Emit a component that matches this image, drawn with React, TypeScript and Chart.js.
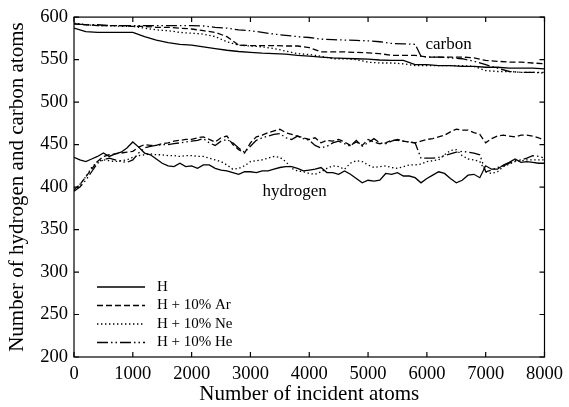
import { useEffect, useRef } from "react";
import { Chart, registerables } from "chart.js";

Chart.register(...registerables);

const FONT = "'Liberation Serif', 'Times New Roman', serif";

// x positions (number of incident atoms)
const hydrogenSteps = [
  0, 100, 200, 300, 400, 500, 600, 700, 800, 900,
  1000, 1100, 1200, 1300, 1400, 1500, 1600, 1700, 1800, 1900,
  2000, 2100, 2200, 2300, 2400, 2500, 2600, 2700, 2800, 2900,
  3000, 3100, 3200, 3300, 3400, 3500, 3600, 3700, 3800, 3900,
  4000, 4100, 4200, 4300, 4400, 4500, 4600, 4700, 4800, 4900,
  5000, 5100, 5200, 5300, 5400, 5500, 5600, 5700, 5800, 5900,
  6000, 6100, 6200, 6300, 6400, 6500, 6600, 6700, 6800, 6900,
  7000, 7100, 7200, 7300, 7400, 7500, 7600, 7700, 7800, 7900,
  8000,
];
const carbonSteps = [
  0, 200, 400, 600, 800, 1000, 1200, 1400, 1600, 1800,
  2000, 2200, 2400, 2600, 2800, 3000, 3200, 3400, 3600, 3800,
  4000, 4200, 4400, 4600, 4800, 5000, 5200, 5400, 5600, 5800,
  5900, 6000, 6200, 6400, 6600, 6800, 7000, 7200, 7400, 7600,
  7800, 8000,
];

// hydrogen counts
const hydrogenH = [
  435, 432, 430, 433, 436, 440, 436, 439, 441, 446,
  453, 447, 440, 438, 433, 428, 425, 424, 428, 424,
  425, 422, 426, 426, 422, 420, 419, 417, 415, 418,
  418, 417, 419, 419, 421, 423, 424, 424, 422, 419,
  420, 421, 423, 417, 417, 415, 419, 415, 410, 405,
  408, 407, 408, 416, 415, 417, 413, 413, 411, 405,
  410, 414, 418, 416, 410, 405, 408, 414, 415, 411,
  425, 421, 421, 426, 429, 433, 429, 430, 429, 428,
  428,
];
const hydrogenAr = [
  397, 403, 412, 421, 430, 436, 438, 439, 440, 441,
  442, 447, 450, 449, 449, 451, 452, 454, 455, 456,
  456, 458, 459, 456, 453, 458, 460, 450, 444, 440,
  452, 459, 461, 464, 466, 468, 464, 462, 460, 458,
  456, 458, 452, 455, 454, 456, 453, 449, 453, 449,
  456, 453, 451, 452, 455, 455, 454, 453, 452, 454,
  456, 457, 459, 461, 465, 468, 467, 467, 464, 462,
  452, 457, 460, 461, 460, 459, 461, 461, 460, 458,
  455,
];
const hydrogenNe = [
  396, 403, 412, 423, 430, 432, 431, 430, 431, 432,
  435, 437, 438, 439, 438, 438, 437, 437, 436, 437,
  437, 436, 436, 434, 432, 430, 426, 421, 422, 425,
  430, 431, 432, 434, 436, 435, 430, 422, 419, 418,
  416, 415, 418, 422, 425, 424, 421, 428, 431, 430,
  426, 423, 424, 425, 423, 422, 424, 426, 426, 427,
  430, 431, 432, 438, 443, 444, 437, 433, 432, 430,
  418, 416, 418, 424, 427, 430, 431, 432, 432, 432,
  432,
];
const hydrogenHe = [
  395, 400, 408, 418, 428, 432, 434, 432, 430, 429,
  432, 440, 446, 448, 449, 450, 450, 451, 452, 453,
  454, 455, 457, 452, 449, 454, 456, 452, 446, 441,
  448, 455, 458, 460, 462, 463, 458, 456, 460, 457,
  455, 449, 446, 448, 452, 454, 451, 448, 455, 448,
  452, 457, 452, 451, 454, 456, 454, 453, 452, 434,
  434, 434, 435, 437, 439, 441, 442, 441, 440, 438,
  418, 420, 423, 425, 428, 431, 432, 434, 437, 436,
  434,
];

// carbon counts
const carbonH = [
  587, 583, 582, 582, 582, 582, 577, 573, 570, 568,
  567, 565, 563, 561, 559.5, 558.5, 557.5, 557, 556.5, 555,
  554, 553, 552, 551.5, 551, 550.5, 549.5, 549, 549, 544,
  544, 544, 543, 543, 542, 542, 541, 541, 540, 540,
  540, 539,
];
const carbonAr = [
  592, 591, 590, 590, 590, 589, 589, 588, 588, 587,
  586, 584, 582, 577, 567, 566.5, 566.5, 566.5, 566, 566,
  564, 559, 559, 559, 558.5, 558, 557, 555, 555, 555,
  554, 553, 553, 553, 553, 552, 549, 548, 547, 547,
  546, 545,
];
const carbonNe = [
  593, 591, 590, 590, 589, 589, 587, 585, 584, 582,
  581, 580, 577, 571, 567, 566, 565, 563, 560, 557,
  556, 554, 551, 551, 550, 547, 546, 546, 545, 543,
  543, 543, 543, 543, 543, 542, 537, 536, 536, 535,
  535, 534,
];
const carbonHe = [
  592, 591, 591, 590, 590, 590, 590, 590, 590, 590,
  590, 589.5, 588, 587, 585, 584, 582, 580, 578.5, 577,
  576, 574, 573.5, 573, 572.5, 572, 571, 569, 568.5, 568,
  554, 553, 553, 552, 551, 548, 544, 540, 536, 535,
  535, 535,
];

const seriesLabels = ["H", "H + 10% Ar", "H + 10% Ne", "H + 10% He"];
const xTicks = [0, 1000, 2000, 3000, 4000, 5000, 6000, 7000, 8000];
const yTicks = [200, 250, 300, 350, 400, 450, 500, 550, 600];

// text annotations placed in data space
const noteTexts = ["carbon", "hydrogen"];
const noteX = [5975, 3207];
const noteY = [562.6, 389.5];

const dashes: number[][] = [[], [6, 3], [1.4, 2.6], [11, 3, 1.5, 3, 1.5, 3]];

function pts(xs: number[], ys: number[]) {
  return xs.map((x, i) => ({ x, y: ys[i] }));
}

const framePlugin = {
  id: "frame",
  afterDraw(chart: any) {
    const { ctx, chartArea, scales } = chart;
    const { left, right, top, bottom } = chartArea;
    ctx.save();
    ctx.strokeStyle = "#000";
    ctx.lineWidth = 1.2;
    ctx.setLineDash([]);
    ctx.strokeRect(left, top, right - left, bottom - top);
    const len = 5;
    ctx.beginPath();
    xTicks.forEach((v) => {
      const px = scales.x.getPixelForValue(v);
      ctx.moveTo(px, bottom);
      ctx.lineTo(px, bottom - len);
      ctx.moveTo(px, top);
      ctx.lineTo(px, top + len);
    });
    yTicks.forEach((v) => {
      const py = scales.y.getPixelForValue(v);
      ctx.moveTo(left, py);
      ctx.lineTo(left + len, py);
      ctx.moveTo(right, py);
      ctx.lineTo(right - len, py);
    });
    ctx.stroke();

    // annotations
    ctx.fillStyle = "#000";
    ctx.font = `17px ${FONT}`;
    ctx.textAlign = "left";
    ctx.textBaseline = "alphabetic";
    noteTexts.forEach((t, i) => {
      ctx.fillText(t, scales.x.getPixelForValue(noteX[i]), scales.y.getPixelForValue(noteY[i]));
    });

    // legend
    const lx0 = left + 23;
    const lx1 = left + 71;
    const tx = left + 83;
    ctx.font = `15px ${FONT}`;
    ctx.textBaseline = "middle";
    seriesLabels.forEach((lab, i) => {
      const ds = chart.data.datasets[i];
      const y = bottom - 70 + i * 18.5;
      ctx.beginPath();
      ctx.lineWidth = ds.borderWidth;
      ctx.setLineDash(ds.borderDash || []);
      ctx.moveTo(lx0, y);
      ctx.lineTo(lx1, y);
      ctx.stroke();
      ctx.setLineDash([]);
      ctx.fillText(lab, tx, y);
    });
    ctx.restore();
  },
};

export default function App() {
  const ref = useRef<HTMLCanvasElement>(null);

  useEffect(() => {
    if (!ref.current) return;
    const hyd = [hydrogenH, hydrogenAr, hydrogenNe, hydrogenHe];
    const carb = [carbonH, carbonAr, carbonNe, carbonHe];
    const datasets: any[] = [];
    hyd.forEach((ys, i) => {
      datasets.push({
        label: seriesLabels[i],
        data: pts(hydrogenSteps, ys),
        borderColor: "#000",
        borderWidth: 1.3,
        borderDash: dashes[i],
        pointRadius: 0,
        fill: false,
        tension: 0,
      });
    });
    carb.forEach((ys, i) => {
      datasets.push({
        label: seriesLabels[i] + " carbon",
        data: pts(carbonSteps, ys),
        borderColor: "#000",
        borderWidth: 1.3,
        borderDash: dashes[i],
        pointRadius: 0,
        fill: false,
        tension: 0,
      });
    });

    const chart = new Chart(ref.current, {
      type: "line",
      data: { datasets },
      options: {
        responsive: false,
        animation: false,
        events: [],
        layout: { padding: { left: 0, top: 15, right: 21, bottom: 0 } },
        plugins: { legend: { display: false }, tooltip: { enabled: false } },
        scales: {
          x: {
            type: "linear",
            min: 0,
            max: 8000,
            afterBuildTicks: (s: any) => {
              s.ticks = xTicks.map((v) => ({ value: v }));
            },
            afterFit: (s: any) => {
              s.height = 50;
            },
            ticks: {
              color: "#000",
              padding: 6,
              maxRotation: 0,
              autoSkip: false,
              font: { family: FONT, size: 18.5 },
              callback: (v: any) => String(v),
            },
            grid: { display: false, drawTicks: false },
            border: { display: false },
            title: {
              display: true,
              text: "Number of incident atoms",
              color: "#000",
              font: { family: FONT, size: 21 },
              padding: { top: 0, bottom: 0 },
            },
          },
          y: {
            type: "linear",
            min: 200,
            max: 600,
            afterBuildTicks: (s: any) => {
              s.ticks = yTicks.map((v) => ({ value: v }));
            },
            afterFit: (s: any) => {
              s.width = 74;
            },
            ticks: {
              color: "#000",
              padding: 6,
              autoSkip: false,
              font: { family: FONT, size: 18.5 },
              callback: (v: any) => String(v),
            },
            grid: { display: false, drawTicks: false },
            border: { display: false },
            title: {
              display: true,
              text: "Number of hydrogen and carbon atoms",
              color: "#000",
              font: { family: FONT, size: 21 },
              padding: { top: 5, bottom: 0 },
            },
          },
        },
      },
      plugins: [framePlugin],
    });
    return () => chart.destroy();
  }, []);

  return (
    <div style={{ position: "absolute", left: 0, top: 0, width: 569, height: 407, background: "#fff" }}>
      <canvas ref={ref} width={569} height={407} style={{ display: "block" }} />
    </div>
  );
}
